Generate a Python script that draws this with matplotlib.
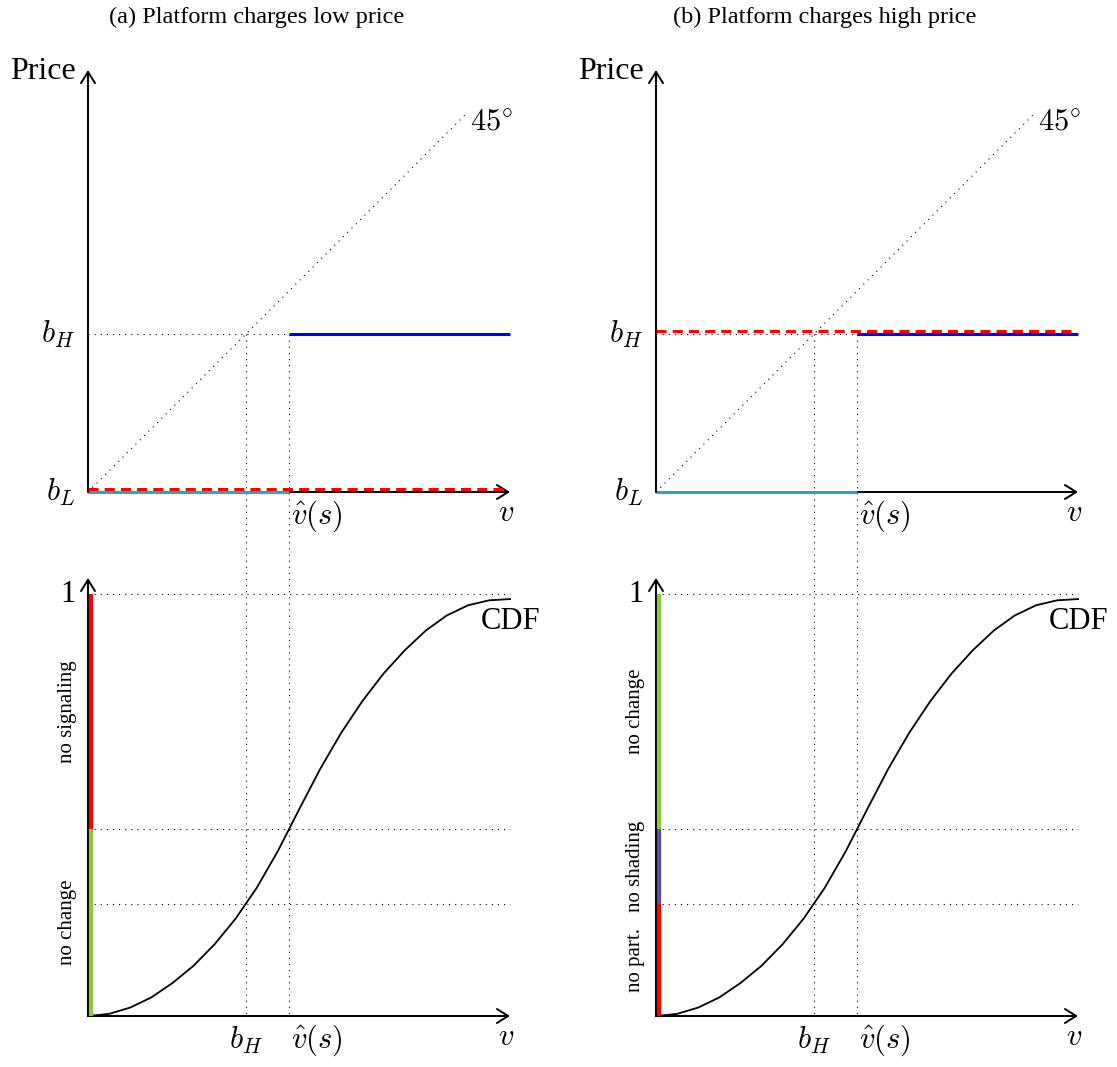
import matplotlib.pyplot as plt

plt.rcParams['font.family'] = ['Liberation Serif', 'DejaVu Serif']
plt.rcParams['mathtext.fontset'] = 'cm'

# model quantities, in axis units (both axes run from 0 to 5)
v_end = 5.0
price_end = 5.0
b_L = 0.0
b_H = 1.87
v_hat = 2.38
diag_end = 4.47
p_low = 0.035     # platform price, panel (a)
p_high = 1.905    # platform price, panel (b)

# CDF of v (values on 0..1)
cdf_v = [0, 0.25, 0.5, 0.75, 1.0, 1.25, 1.5, 1.75, 2.0, 2.25, 2.5,
         2.75, 3.0, 3.25, 3.5, 3.75, 4.0, 4.25, 4.5, 4.75, 5.0]
cdf_F = [0, 0.005, 0.020, 0.044, 0.078, 0.119, 0.170, 0.231, 0.304, 0.391, 0.489,
         0.585, 0.671, 0.746, 0.811, 0.866, 0.913, 0.949, 0.973, 0.985, 0.988]
F_bH = 0.266
F_vhat = 0.442

titles = ['(a) Platform charges low price', '(b) Platform charges high price']
prices = [p_low, p_high]
bands = [
    [(F_vhat, 1.0, '#FF0000', 'no signaling'), (0.0, F_vhat, '#8DC63F', 'no change')],
    [(F_vhat, 1.0, '#8DC63F', 'no change'), (F_bH, F_vhat, '#5B4DA6', 'no shading'),
     (0.0, F_bH, '#FF0000', 'no part.')],
]

W, H = 1117, 1067
u = 84.4                      # pixels per axis unit
origins_x = [88, 656]         # y-axis position of each column
y0_bottom = 1016              # bottom panel x-axis
OFF = (1016 - 492) / u        # top panel raised above the bottom one
S = 5.0                       # CDF scale: F = 1 sits at 5 units

fig = plt.figure(figsize=(W / 100, H / 100), dpi=100)

dot = dict(color='black', lw=0.8, linestyle=(0, (1, 4.5)))
arrow = dict(arrowstyle='->,head_length=0.45,head_width=0.28', lw=1.4,
             color='black', mutation_scale=18, shrinkA=0, shrinkB=0)
fs = 22

for col in range(2):
    ox = origins_x[col]
    ax = fig.add_axes([0, 0, 1, 1])
    ax.set_xlim(-ox / u, (W - ox) / u)
    ax.set_ylim(-(H - y0_bottom) / u, y0_bottom / u)
    ax.axis('off')
    ax.patch.set_alpha(0)

    ax.text(2.0, OFF + 5.6 + 0.02, titles[col], ha='center', va='center', fontsize=17.5)

    # ---- top panel: prices ----
    ax.plot([0, diag_end], [OFF, OFF + diag_end], **dot)
    ax.plot([0, v_hat], [OFF + b_H, OFF + b_H], **dot)
    ax.plot([b_H, b_H], [OFF + b_H, 0], **dot)
    ax.plot([v_hat, v_hat], [OFF + b_H, 0], **dot)

    ax.plot([0, v_hat], [OFF + b_L, OFF + b_L], color='#2C9FD4', lw=2.2,
            solid_capstyle='butt', zorder=3)
    ax.plot([v_hat, v_end], [OFF + b_H, OFF + b_H], color='#0000FF', lw=2.2,
            solid_capstyle='butt', zorder=3)
    ax.annotate('', xy=(0, OFF + price_end), xytext=(0, OFF), arrowprops=arrow)
    ax.annotate('', xy=(v_end, OFF), xytext=(0, OFF), arrowprops=arrow, zorder=2)
    ax.plot([0, v_end - 0.05], [OFF + prices[col], OFF + prices[col]], color='#FF0000',
            lw=2.2, linestyle=(0, (3.3, 2)), zorder=4)

    ax.text(-0.15, OFF + price_end - 0.02, 'Price', ha='right', va='center', fontsize=23)
    ax.text(-0.15, OFF + b_H, '$b_H$', ha='right', va='center', fontsize=fs)
    ax.text(-0.15, OFF + b_L, '$b_L$', ha='right', va='center', fontsize=fs)
    ax.text(diag_end + 0.06, OFF + diag_end - 0.1, r'$45^{\circ}$', ha='left',
            va='center', fontsize=fs)
    ax.text(v_hat + 0.02, OFF - 0.08, r'$\hat{v}(s)$', ha='left', va='top', fontsize=fs)
    ax.text(v_end - 0.05, OFF - 0.08, '$v$', ha='center', va='top', fontsize=fs)

    # ---- bottom panel: CDF ----
    for lvl in [1.0, F_vhat, F_bH]:
        ax.plot([0, v_end], [S * lvl, S * lvl], **dot)
    ax.plot(cdf_v, [S * f for f in cdf_F], color='black', lw=1.3)
    ax.annotate('', xy=(0, 5.19), xytext=(0, 0), arrowprops=arrow)
    ax.annotate('', xy=(v_end, 0), xytext=(0, 0), arrowprops=arrow)
    for lo, hi, c, lab in bands[col]:
        ax.plot([0.035, 0.035], [S * lo, S * hi], color=c, lw=3, solid_capstyle='butt',
                zorder=3)
        ax.text(-0.24, S * (lo + hi) / 2, lab, rotation=90, ha='center', va='center',
                fontsize=15)

    ax.text(-0.15, S, '1', ha='right', va='center', fontsize=fs)
    ax.text(5.0, 4.67, 'CDF', ha='center', va='center', fontsize=fs)
    ax.text(b_H, -0.1, '$b_H$', ha='center', va='top', fontsize=fs)
    ax.text(v_hat + 0.02, -0.08, r'$\hat{v}(s)$', ha='left', va='top', fontsize=fs)
    ax.text(v_end - 0.05, -0.08, '$v$', ha='center', va='top', fontsize=fs)

fig.savefig('out.png', dpi=100)
